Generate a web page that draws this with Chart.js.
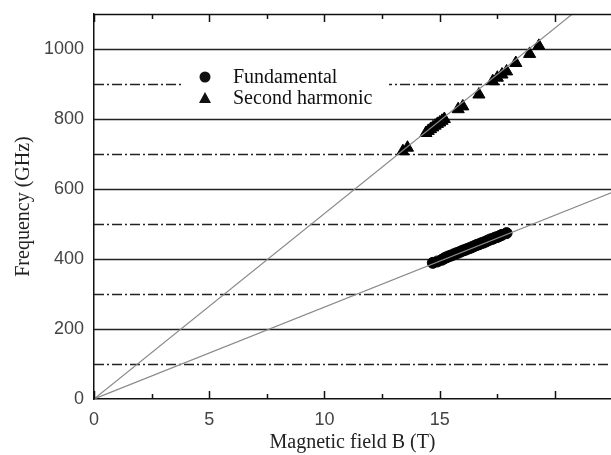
<!DOCTYPE html>
<html>
<head>
<meta charset="utf-8">
<script src="https://cdn.jsdelivr.net/npm/chart.js@4.4.0/dist/chart.umd.min.js"></script>
<style>
  html, body { margin: 0; padding: 0; background: #fff; }
</style>
</head>
<body>
<canvas id="chart" width="611" height="455"></canvas>
<script>
// measured points (B in tesla, f in GHz)
const fundB = [14.7, 14.9, 15.1, 15.2, 15.3, 15.4, 15.5, 15.6, 15.7, 15.8, 15.9, 16.0, 16.1, 16.2, 16.3,
               16.4, 16.5, 16.6, 16.7, 16.8, 16.9, 17.0, 17.1, 17.2, 17.3, 17.4, 17.5, 17.6, 17.7, 17.9];
const fundF = [389, 393, 398, 402, 405, 408, 410, 413, 416, 418, 421, 424, 426, 429, 431,
               434, 437, 440, 442, 445, 447, 450, 453, 456, 458, 461, 463, 466, 469, 474];

const harmB = [13.4, 13.6, 14.4, 14.5, 14.6, 14.7, 14.8, 14.9, 15.0, 15.1, 15.2, 15.8, 16.0,
               16.7, 17.3, 17.5, 17.7, 17.9, 18.3, 18.9, 19.3];
const harmF = [708, 718, 760, 766, 771, 776, 781, 786, 790, 795, 800, 828, 836,
               870, 908, 918, 927, 936, 960, 986, 1009];

// fitted guide lines through origin
const lineB = [0, 23];
const fundLineF = [0, 604];
const harmLineF = [0, 1219];

const xMinorTicks = [0, 2.5, 5, 7.5, 10, 12.5, 15, 17.5, 20];
const xMajorTicks = [0, 5, 10, 15, 20];
const ySolidGrid = [200, 400, 600, 800, 1000];
const yDashGrid = [100, 300, 500, 700, 900];

const pts = (xs, ys) => xs.map((x, i) => ({ x: x, y: ys[i] }));

const frame = {
  id: 'frame',
  beforeDatasetsDraw(chart) {
    const { ctx, chartArea: a, scales: { y } } = chart;
    ctx.save();
    ctx.strokeStyle = '#222';
    ctx.lineWidth = 1.4;
    ySolidGrid.forEach(v => {
      const py = Math.round(y.getPixelForValue(v)) + 0.5;
      ctx.setLineDash([]);
      ctx.beginPath(); ctx.moveTo(a.left, py); ctx.lineTo(a.right, py); ctx.stroke();
    });
    yDashGrid.forEach(v => {
      const py = Math.round(y.getPixelForValue(v)) + 0.5;
      ctx.setLineDash([10, 3, 2, 3]);
      ctx.beginPath(); ctx.moveTo(a.left, py); ctx.lineTo(a.right, py); ctx.stroke();
    });
    // legend box (opaque, hides grid behind it)
    ctx.fillStyle = '#fff';
    ctx.fillRect(a.left + 88, a.top + 46, 207, 50);
    ctx.restore();
  },
  afterDraw(chart) {
    const { ctx, chartArea: a, scales: { x } } = chart;
    ctx.save();
    ctx.strokeStyle = '#111';
    ctx.lineWidth = 1.5;
    ctx.beginPath(); ctx.moveTo(a.left, a.top + 0.5); ctx.lineTo(a.right, a.top + 0.5); ctx.stroke();
    xMinorTicks.forEach(v => {
      const px = Math.round(x.getPixelForValue(v)) + 0.5;
      const len = xMajorTicks.includes(v) ? 8 : 5;
      ctx.beginPath();
      ctx.moveTo(px, a.bottom); ctx.lineTo(px, a.bottom - len);
      ctx.moveTo(px, a.top); ctx.lineTo(px, a.top + len);
      ctx.stroke();
    });
    // legend
    const items = chart.data.datasets.filter(d => d.showInLegend);
    ctx.fillStyle = '#111';
    ctx.font = '20px "Liberation Serif"';
    ctx.textBaseline = 'middle';
    items.forEach((d, i) => {
      const mx = a.left + 111, my = a.top + 63 + i * 21;
      ctx.beginPath();
      if (d.pointStyle === 'triangle') {
        ctx.moveTo(mx, my - 6); ctx.lineTo(mx + 6, my + 5); ctx.lineTo(mx - 6, my + 5); ctx.closePath();
      } else {
        ctx.arc(mx, my, 5.5, 0, Math.PI * 2);
      }
      ctx.fill();
      ctx.fillText(d.label, mx + 28, my + 1);
    });
    ctx.restore();
  }
};

new Chart(document.getElementById('chart'), {
  type: 'scatter',
  data: {
    datasets: [
      { label: 'fund line', type: 'line', data: pts(lineB, fundLineF), borderColor: '#8a8a8a',
        borderWidth: 1.2, pointRadius: 0, fill: false },
      { label: 'harm line', type: 'line', data: pts(lineB, harmLineF), borderColor: '#8a8a8a',
        borderWidth: 1.2, pointRadius: 0, fill: false },
      { label: 'Fundamental', showInLegend: true, data: pts(fundB, fundF), pointStyle: 'circle',
        pointRadius: 5.5, backgroundColor: '#000', borderColor: '#000' },
      { label: 'Second harmonic', showInLegend: true, data: pts(harmB, harmF), pointStyle: 'triangle',
        pointRadius: 7, backgroundColor: '#000', borderColor: '#000' }
    ]
  },
  options: {
    responsive: false,
    animation: false,
    layout: { autoPadding: false, padding: { top: 14, right: 0, left: 0, bottom: 0 } },
    plugins: { legend: { display: false }, tooltip: { enabled: false } },
    scales: {
      x: {
        type: 'linear', min: 0, max: 22.43,
        afterFit: s => { s.height = 56; s.paddingRight = 0; s.paddingLeft = 0; },
        grid: { display: false },
        border: { display: true, color: '#111', width: 1.5 },
        ticks: {
          stepSize: 5, padding: 2, color: '#444', maxRotation: 0,
          font: { family: 'Liberation Sans', size: 18 },
          callback: v => (v % 5 === 0 ? v : '')
        },
        title: { display: true, text: 'Magnetic field B (T)', color: '#222',
                 font: { family: 'Liberation Serif', size: 20 }, padding: { top: 0, bottom: 0 } }
      },
      y: {
        type: 'linear', min: 0, max: 1100,
        afterFit: s => { s.width = 94; },
        grid: { display: false },
        border: { display: true, color: '#111', width: 1.5 },
        ticks: {
          stepSize: 100, padding: 2, color: '#444',
          font: { family: 'Liberation Sans', size: 18 },
          callback: v => (v % 200 === 0 && v <= 1000 ? v : '')
        },
        title: { display: true, text: 'Frequency (GHz)', color: '#222',
                 font: { family: 'Liberation Serif', size: 20 }, padding: { top: 12, bottom: 0 } }
      }
    }
  },
  plugins: [frame]
});
</script>
</body>
</html>
